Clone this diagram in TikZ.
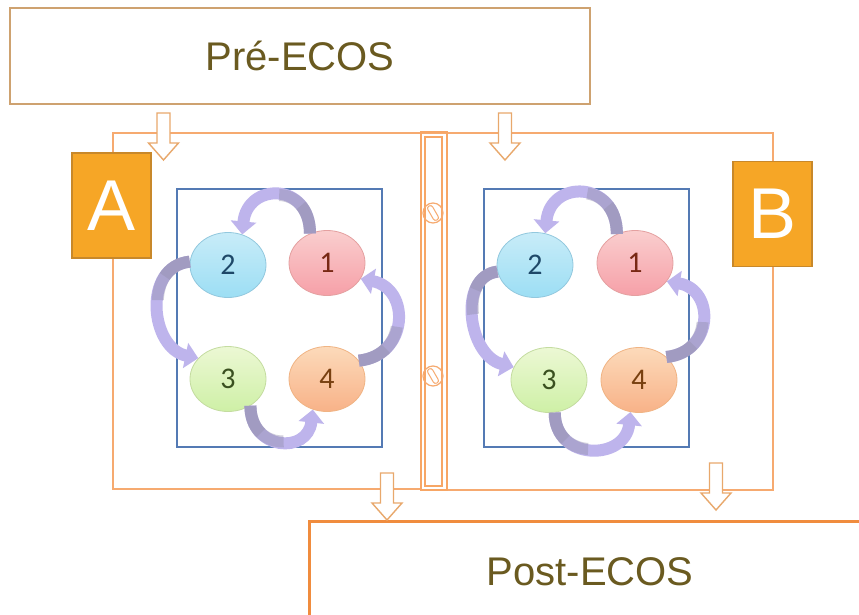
\documentclass[tikz,border=0pt]{standalone}
\usepackage{fontspec}
\setmainfont{Liberation Sans}
\newfontfamily\numfont{Carlito}
\usetikzlibrary{arrows.meta,shapes.geometric}

\definecolor{frameor}{RGB}{246,170,112}
\definecolor{preedge}{RGB}{206,162,112}
\definecolor{postedge}{RGB}{240,140,62}
\definecolor{labfill}{RGB}{246,166,38}
\definecolor{labedge}{RGB}{200,136,42}
\definecolor{titletext}{RGB}{106,90,32}
\definecolor{bluebox}{RGB}{84,122,180}
\definecolor{hollowedge}{RGB}{232,168,108}
\definecolor{cycbody}{RGB}{190,180,236}
\definecolor{cyctail}{RGB}{150,146,176}

% Hollow downward block arrow hanging from a named coordinate (top centre)
\newcommand\hollowdown[1]{%
  \draw[hollowarrow] (#1) ++(-6.5,0) -- ++(13,0) -- ++(0,30) -- ++(8.5,0)
    -- ++(-15,17) -- ++(-15,-17) -- ++(8.5,0) -- cycle;}

% Curved block arrow between two circle anchors, darker towards the tail
\newcommand\cycarrow[4]{%
  \draw[cycarrowstyle] (#1) .. controls +(#2) and +(#3) .. (#4);
  \draw[cycshade, dash pattern=on 55pt off 2000pt] (#1) .. controls +(#2) and +(#3) .. (#4);
  \draw[cycshade, dash pattern=on 30pt off 2000pt] (#1) .. controls +(#2) and +(#3) .. (#4);}

\begin{document}
\begin{tikzpicture}[x=1pt,y=-1pt,
  frame/.style={draw=frameor, line width=1.5pt},
  hinge/.style={draw=frameor!90!orange, line width=1.8pt},
  title/.style={text=titletext, font=\fontsize{40}{44}\selectfont},
  labbox/.style={rectangle, draw=labedge, line width=1.8pt, fill=labfill,
    minimum width=79pt, minimum height=105pt, inner sep=0pt, text=white,
    font=\fontsize{72}{72}\selectfont},
  inner/.style={draw=bluebox, line width=1.2pt},
  cyc/.style={ellipse, minimum width=76pt, minimum height=65pt, inner sep=0pt,
    line width=0.8pt, font=\numfont\fontsize{30}{32}\selectfont},
  cone/.style={cyc, draw={rgb,255:red,228;green,160;blue,160},
    top color={rgb,255:red,250;green,206;blue,206},
    bottom color={rgb,255:red,246;green,160;blue,168},
    text={rgb,255:red,120;green,40;blue,20}},
  ctwo/.style={cyc, draw={rgb,255:red,146;green,200;blue,222},
    top color={rgb,255:red,200;green,236;blue,248},
    bottom color={rgb,255:red,156;green,222;blue,244},
    text={rgb,255:red,30;green,72;blue,104}},
  cthree/.style={cyc, draw={rgb,255:red,196;green,220;blue,160},
    top color={rgb,255:red,236;green,248;blue,212},
    bottom color={rgb,255:red,206;green,240;blue,166},
    text={rgb,255:red,58;green,80;blue,32}},
  cfour/.style={cyc, draw={rgb,255:red,240;green,180;blue,132},
    top color={rgb,255:red,252;green,218;blue,186},
    bottom color={rgb,255:red,248;green,178;blue,136},
    text={rgb,255:red,120;green,64;blue,16}},
  cycarrowstyle/.style={draw=cycbody, line width=12pt,
    -{Triangle[width=25pt,length=13pt]}},
  cycshade/.style={draw=cyctail, line width=12pt, opacity=0.45},
  hollowarrow/.style={draw=hollowedge, line width=1.4pt, fill=white, line join=miter},
  screw/.style={circle, draw=frameor, line width=1.2pt, minimum size=20pt, inner sep=0pt},
  slot/.style={rectangle, rounded corners=2.5pt, draw=frameor, line width=1pt,
    minimum width=16pt, minimum height=5.5pt, inner sep=0pt},
]
\useasboundingbox (0,0) rectangle (859,615);
\fill[white] (0,0) rectangle (859,615);

% outer frames of the two panels
\draw[frame] (421,489) -- (113,489) -- (113,133) -- (773,133) -- (773,490) -- (447,490);

% inner blue boxes
\draw[inner] (177,189) rectangle (382,447);
\draw[inner] (484,189) rectangle (689,447);

% cycle A
\node[cone]   (a1) at (327,263) {1};
\node[ctwo]   (a2) at (228,265) {2};
\node[cthree] (a3) at (228,379) {3};
\node[cfour]  (a4) at (327,379) {4};
\cycarrow{a1.120}{0,-52}{5,-52}{a2.65}
\cycarrow{a2.175}{-48,5}{-48,-10}{a3.145}
\cycarrow{a3.-50}{0,45}{-5,45}{a4.-115}
\cycarrow{a4.30}{50,-5}{50,10}{a1.-25}

% cycle B
\node[cone]   (b1) at (635,263) {1};
\node[ctwo]   (b2) at (535,265) {2};
\node[cthree] (b3) at (549,380) {3};
\node[cfour]  (b4) at (639,380) {4};
\cycarrow{b1.122}{0,-54}{5,-54}{b2.72}
\cycarrow{b2.190}{-40,5}{-46,-12}{b3.160}
\cycarrow{b3.-80}{0,49}{-5,49}{b4.-105}
\cycarrow{b4.40}{48,-5}{48,8}{b1.-30}

% hinge between the panels
\draw[hinge] (421,132) rectangle (447,490);
\draw[hinge, line width=1.2pt] (425,137) rectangle (442,486);
\node[screw] (screwtop) at (433,213) {};
\node[slot, rotate=-60] (slottop) at (433,213) {};
\node[screw] (screwbot) at (433,376) {};
\node[slot, rotate=-60] (slotbot) at (433,376) {};

% panel labels
\node[labbox] (labA) at (111.5,205.5) {A};
\node[labbox] (labB) at (772.5,214) {B};

% stages before and after
\node[draw=preedge, line width=1.8pt, minimum width=580pt, minimum height=96pt,
  inner sep=0pt, title] (pre) at (300,56) {Pré-ECOS};
\node[draw=postedge, line width=2.5pt, minimum width=600pt, minimum height=130pt,
  anchor=north west] (post) at (308,520) {};
\node[title] (posttext) at (590,572) {Post-ECOS};

% flow arrows
\coordinate (inA) at (163.5,113);
\coordinate (inB) at (505,113);
\coordinate (outA) at (387,473);
\coordinate (outB) at (716,463);
\hollowdown{inA}
\hollowdown{inB}
\hollowdown{outA}
\hollowdown{outB}
\end{tikzpicture}
\end{document}
